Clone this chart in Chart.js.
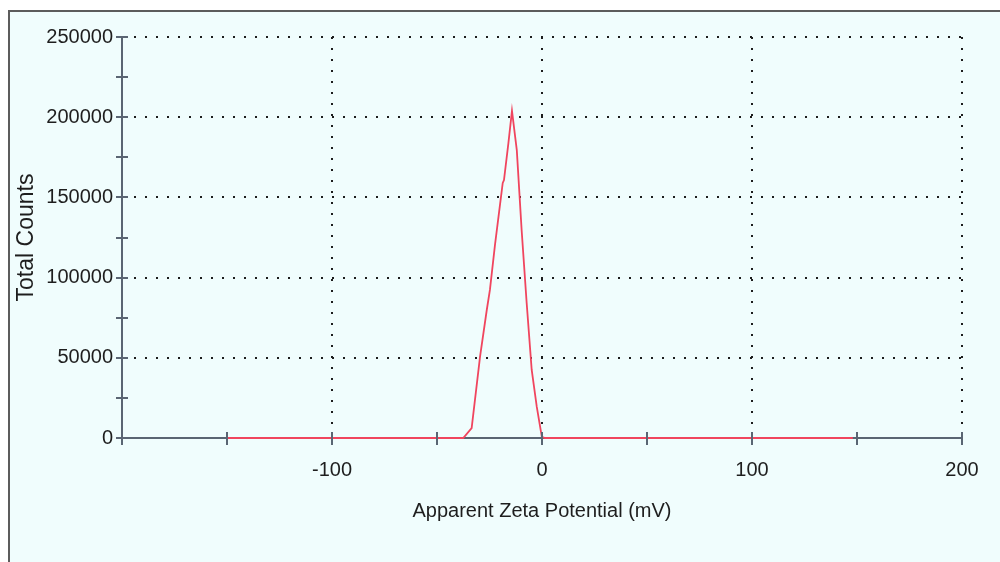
<!DOCTYPE html>
<html>
<head>
<meta charset="utf-8">
<title>Apparent Zeta Potential</title>
<script src="https://cdn.jsdelivr.net/npm/chart.js@4/dist/chart.umd.min.js"></script>
<style>
  html, body { margin: 0; padding: 0; background: #fff; overflow: hidden; }
  #frame {
    position: absolute; left: 8px; top: 10px; width: 1000px; height: 560px;
    border-left: 2px solid #5c5c5c; border-top: 2px solid #5c5c5c;
    background: #f0fdfd;
  }
  #wrap { position: absolute; left: 0; top: 0; width: 1000px; height: 562px; }
</style>
</head>
<body>
<div id="frame"></div>
<div id="wrap"><canvas id="zetaChart" width="1000" height="562"></canvas></div>
<script>
// zeta potential distribution
var zetaMv = [-150, -110, -70, -45, -37.5, -33.5, -29.5, -26.3, -24.8, -22.4, -18.7, -18.1, -16.0, -14.3,
              -12.0, -9.7, -7.3, -4.9, -2.5, -0.1, 1.4, 20, 60, 100, 148];
var totalCounts = [0, 0, 0, 0, 0, 6200, 50700, 79800, 92300, 120300, 159000, 160800, 183900, 204000,
                   179500, 129700, 84200, 42400, 19500, 800, 0, 0, 0, 0, 0];
var xLabelValues = [-100, 0, 100, 200];
var yLabelValues = [0, 50000, 100000, 150000, 200000, 250000];

var axisColor = '#5a6573';
var textColor = '#1e1e1e';
var dotColor = '#1c1c1c';
var fontFamily = '"Liberation Sans", Arial, sans-serif';

var points = zetaMv.map(function(x, i) { return { x: x, y: totalCounts[i] }; });

// ticks in this plot cross the axis line, so draw them ourselves
var crossTicks = {
  id: 'crossTicks',
  afterDraw: function(chart) {
    var ctx = chart.ctx, xs = chart.scales.x, ys = chart.scales.y;
    ctx.save();
    ctx.strokeStyle = axisColor;
    ctx.lineWidth = 2;
    ctx.beginPath();
    xs.ticks.forEach(function(t) {
      var px = Math.round(xs.getPixelForValue(t.value));
      ctx.moveTo(px, xs.top - 6); ctx.lineTo(px, xs.top + 7);
    });
    ys.ticks.forEach(function(t) {
      var py = Math.round(ys.getPixelForValue(t.value));
      ctx.moveTo(ys.right - 6, py); ctx.lineTo(ys.right + 6, py);
    });
    ctx.stroke();
    ctx.restore();
  }
};

new Chart(document.getElementById('zetaChart'), {
  type: 'line',
  data: {
    datasets: [{
      data: points,
      borderColor: '#f0455e',
      borderWidth: 1.8,
      pointRadius: 0,
      tension: 0,
      fill: false,
      clip: false
    }]
  },
  options: {
    responsive: false,
    animation: false,
    layout: { padding: { left: 0, right: 38, top: 37, bottom: 39 } },
    plugins: { legend: { display: false }, tooltip: { enabled: false } },
    scales: {
      x: {
        type: 'linear',
        min: -200,
        max: 200,
        afterFit: function(s) { s.height = 85; },
        ticks: {
          stepSize: 50,
          autoSkip: false,
          maxRotation: 0,
          padding: 20,
          color: textColor,
          font: { family: fontFamily, size: 20 },
          callback: function(v) { return xLabelValues.indexOf(v) >= 0 ? String(v) : ''; }
        },
        grid: {
          drawTicks: false,
          lineWidth: 2,
          color: function(c) {
            var v = c.tick ? c.tick.value : null;
            return (v !== -200 && xLabelValues.indexOf(v) >= 0) ? dotColor : 'rgba(0,0,0,0)';
          }
        },
        border: { color: axisColor, width: 2, dash: [2, 9] },
        title: {
          display: true,
          text: 'Apparent Zeta Potential (mV)',
          color: textColor,
          font: { family: fontFamily, size: 20 },
          padding: { top: 0, bottom: 0 }
        }
      },
      y: {
        min: 0,
        max: 250000,
        afterFit: function(s) { s.width = 122; },
        ticks: {
          stepSize: 25000,
          autoSkip: false,
          padding: 9,
          color: textColor,
          font: { family: fontFamily, size: 20 },
          callback: function(v) { return yLabelValues.indexOf(v) >= 0 ? String(v) : ''; }
        },
        grid: {
          drawTicks: false,
          lineWidth: 2,
          color: function(c) {
            var v = c.tick ? c.tick.value : null;
            return (v !== 0 && yLabelValues.indexOf(v) >= 0) ? dotColor : 'rgba(0,0,0,0)';
          }
        },
        border: { color: axisColor, width: 2, dash: [2, 9] },
        title: {
          display: true,
          text: 'Total Counts',
          color: textColor,
          font: { family: fontFamily, size: 23 },
          padding: { top: 13, bottom: 0 }
        }
      }
    }
  },
  plugins: [crossTicks]
});
</script>
</body>
</html>
